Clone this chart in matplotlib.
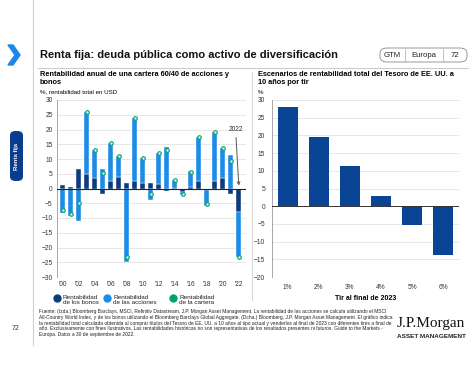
import matplotlib
matplotlib.use("Agg")
import matplotlib.pyplot as plt
from matplotlib.patches import FancyBboxPatch, Polygon
from matplotlib.lines import Line2D
import numpy as np

plt.rcParams['font.family'] = ['Liberation Sans', 'DejaVu Sans']

# Datos (izda.): contribuciones anuales de una cartera 60/40
years = list(range(2000, 2023))
bonds = [1.2, 0.5, 6.5, 5.0, 3.6, -1.7, 2.5, 3.9, 1.8, 2.6, 2.0, 2.0, 1.5,
         -0.9, 0.2, -1.1, 0.5, 2.7, -0.4, 2.7, 3.6, -1.8, -7.9]
equities = [-8.3, -9.3, -11.1, 20.8, 9.4, 6.6, 13.0, 7.0, -24.9, 21.4, 8.2,
            -4.0, 10.4, 13.9, 2.6, -1.2, 5.4, 14.8, -5.6, 16.6, 10.2, 11.3,
            -15.3]
portfolio = [-7.4, -8.8, -4.8, 25.8, 13.0, 5.1, 15.5, 10.9, -23.2, 24.0,
             10.2, -1.9, 11.9, 13.2, 3.0, -2.0, 5.6, 17.5, -5.4, 19.3, 13.8,
             9.4, -23.2]
year_labels = ["'00", "'02", "'04", "'06", "'08", "'10", "'12", "'14",
               "'16", "'18", "'20", "'22"]

# Datos (dcha.): escenarios del Tesoro a 10 años
scenarios = ['1%', '2%', '3%', '4%', '5%', '6%']
scen_returns = [28.1, 19.6, 11.3, 3.0, -5.4, -13.7]

W, H = 474, 366
DARK = '#0D3B7C'
LIGHT = '#1C8DE6'
GREEN = '#00A36C'
NAVY = '#0A4595'
GRID = '#E3E3E3'


def fx(x):
    return x / W


def fy(y):
    return 1 - y / H


def box(x0, y0, x1, y1):
    return [fx(x0), fy(y1), (x1 - x0) / W, (y1 - y0) / H]


fig = plt.figure(figsize=(W / 100, H / 100), dpi=100)

# ---- cabecera y elementos de página ----
fig.add_artist(Line2D([fx(33), fx(33)], [fy(0), fy(345)], color='#CFCFCF', lw=0.8))
fig.add_artist(Polygon([(fx(8), fy(45)), (fx(13), fy(45)), (fx(20), fy(55)),
                        (fx(13), fy(65)), (fx(8), fy(65)), (fx(15), fy(55))],
                       closed=True, color='#1E88E5', transform=fig.transFigure))
fig.text(fx(40), fy(55), 'Renta fija: deuda pública como activo de diversificación',
         fontsize=8.0, fontweight='bold', color='#111111', va='center', ha='left')

fig.add_artist(FancyBboxPatch((fx(380), fy(62)), (467 - 380) / W, 14 / H,
                              boxstyle='round,pad=0,rounding_size=0.015',
                              fc='white', ec='#888888', lw=0.6,
                              transform=fig.transFigure))
for xs in (405, 443):
    fig.add_artist(Line2D([fx(xs), fx(xs)], [fy(49), fy(61)], color='#AAAAAA', lw=0.5))
fig.text(fx(392.5), fy(55.5), 'GTM', fontsize=5.6, ha='center', va='center', color='#222222')
fig.text(fx(424), fy(55.5), 'Europa', fontsize=5.6, ha='center', va='center', color='#222222')
fig.text(fx(455), fy(55.5), '72', fontsize=5.6, ha='center', va='center', color='#222222')

fig.add_artist(Line2D([fx(38), fx(468)], [fy(68), fy(68)], color='#CCCCCC', lw=0.8))
fig.add_artist(Line2D([fx(252), fx(252)], [fy(72), fy(300)], color='#D5D5D5', lw=0.7))

# pestaña lateral
fig.add_artist(FancyBboxPatch((fx(10), fy(181)), 13 / W, 50 / H,
                              boxstyle='round,pad=0,rounding_size=0.012',
                              fc='#0A3D8F', ec='none', transform=fig.transFigure))
fig.text(fx(16.5), fy(156), 'Renta fija', fontsize=4.3, fontweight='bold',
         color='white', rotation=90, ha='center', va='center')
fig.text(fx(16), fy(328), '72', fontsize=5, ha='center', va='center', color='#333333')

# subtítulos
fig.text(fx(40), fy(71), 'Rentabilidad anual de una cartera 60/40 de acciones y\nbonos',
         fontsize=5.3, fontweight='bold', ha='left', va='top', linespacing=1.2)
fig.text(fx(40), fy(92), '%, rentabilidad total en USD', fontsize=4.4, ha='left', va='center')
fig.text(fx(258), fy(71), 'Escenarios de rentabilidad total del Tesoro de EE. UU. a\n10 años por tir',
         fontsize=5.3, fontweight='bold', ha='left', va='top', linespacing=1.2)
fig.text(fx(258), fy(92), '%', fontsize=4.4, ha='left', va='center')

# ---- gráfico izquierdo ----
ax1 = fig.add_axes(box(57, 100, 246, 277))
x = np.arange(len(years))
bw = 0.66
eq_bottom = [b if (b * e > 0) else 0 for b, e in zip(bonds, equities)]
ax1.bar(x, bonds, width=bw, color=DARK, edgecolor='white', linewidth=0.3, zorder=3)
ax1.bar(x, equities, width=bw, bottom=eq_bottom, color=LIGHT, edgecolor='white',
        linewidth=0.3, zorder=3)
ax1.plot(x, portfolio, 'o', ms=2.6, mfc='#D8F3EA', mec=GREEN, mew=0.8, zorder=4, ls='none')
ax1.set_xlim(-0.7, 22.9)
ax1.set_ylim(-30, 30)
ax1.set_yticks(np.arange(-30, 31, 5))
ax1.set_xticks(x[::2])
ax1.set_xticklabels(year_labels)
ax1.grid(axis='y', color=GRID, lw=0.6, zorder=0)
ax1.axhline(0, color='#222222', lw=0.8, zorder=5)
for s in ('top', 'right', 'bottom'):
    ax1.spines[s].set_visible(False)
ax1.spines['left'].set_color('#999999')
ax1.spines['left'].set_linewidth(0.6)
ax1.tick_params(axis='both', labelsize=4.8, length=0, pad=3, colors='#333333')
ax1.annotate('2022', xy=(22, 1), xytext=(21.6, 18.7), fontsize=4.8, ha='center',
             va='bottom', color='#333333',
             arrowprops=dict(arrowstyle='->', color='#555555', lw=0.7,
                             shrinkA=1, shrinkB=0))

# leyenda
legend_items = [(57, DARK, 'Rentabilidad\nde los bonos'),
                (107, LIGHT, 'Rentabilidad\nde las acciones'),
                (173, GREEN, 'Rentabilidad\nde la cartera')]
for cx, col, lab in legend_items:
    fig.add_artist(Line2D([fx(cx)], [fy(298)], marker='o', ms=5, color=col, ls='none'))
    fig.text(fx(cx + 6), fy(300), lab, fontsize=4.6, ha='left', va='center',
             linespacing=1.1, color='#222222')

# ---- gráfico derecho ----
ax2 = fig.add_axes(box(272, 100, 459, 277))
xs2 = np.arange(len(scenarios))
ax2.bar(xs2, scen_returns, width=0.64, color=NAVY, zorder=3)
ax2.set_xlim(-0.5, 5.5)
ax2.set_ylim(-20, 30)
ax2.set_yticks(np.arange(-20, 31, 5))
ax2.set_xticks(xs2)
ax2.set_xticklabels(scenarios)
ax2.grid(axis='y', color=GRID, lw=0.6, zorder=0)
ax2.axhline(0, color='#333333', lw=0.7, zorder=4)
for s in ('top', 'right', 'bottom'):
    ax2.spines[s].set_visible(False)
ax2.spines['left'].set_color('#999999')
ax2.spines['left'].set_linewidth(0.6)
ax2.tick_params(axis='both', labelsize=4.8, length=0, pad=5, colors='#333333')
ax2.set_xlabel('Tir al final de 2023', fontsize=5.0, fontweight='bold', labelpad=3)

# ---- pie ----
footer = ("Fuente: (Izda.) Bloomberg Barclays, MSCI, Refinitiv Datastream, J.P. Morgan Asset Management. "
          "La rentabilidad de las acciones se calcula utilizando el MSCI\n"
          "All-Country World Index, y de los bonos utilizando el Bloomberg Barclays Global Aggregate. "
          "(Dcha.) Bloomberg, J.P. Morgan Asset Management. El gráfico indica\n"
          "la rentabilidad total calculada obtenida al comprar títulos del Tesoro de EE. UU. a 10 años "
          "al tipo actual y venderlos al final de 2023 con diferentes tires a final de\n"
          "año. Exclusivamente con fines ilustrativos. Las rentabilidades históricas no son "
          "representativas de los resultados presentes ni futuros. Guide to the Markets -\n"
          "Europa. Datos a 30 de septiembre de 2022.")
fig.text(fx(39), fy(309), footer, fontsize=3.5, ha='left', va='top',
         linespacing=1.2, color='#222222')
fig.text(fx(431), fy(324), 'J.P.Morgan', fontsize=11, family='Liberation Serif',
         ha='center', va='center', color='#111111')
fig.text(fx(431), fy(336), 'ASSET MANAGEMENT', fontsize=4.6, fontweight='bold',
         ha='center', va='center', color='#222222')

fig.savefig('out.png', dpi=100)
